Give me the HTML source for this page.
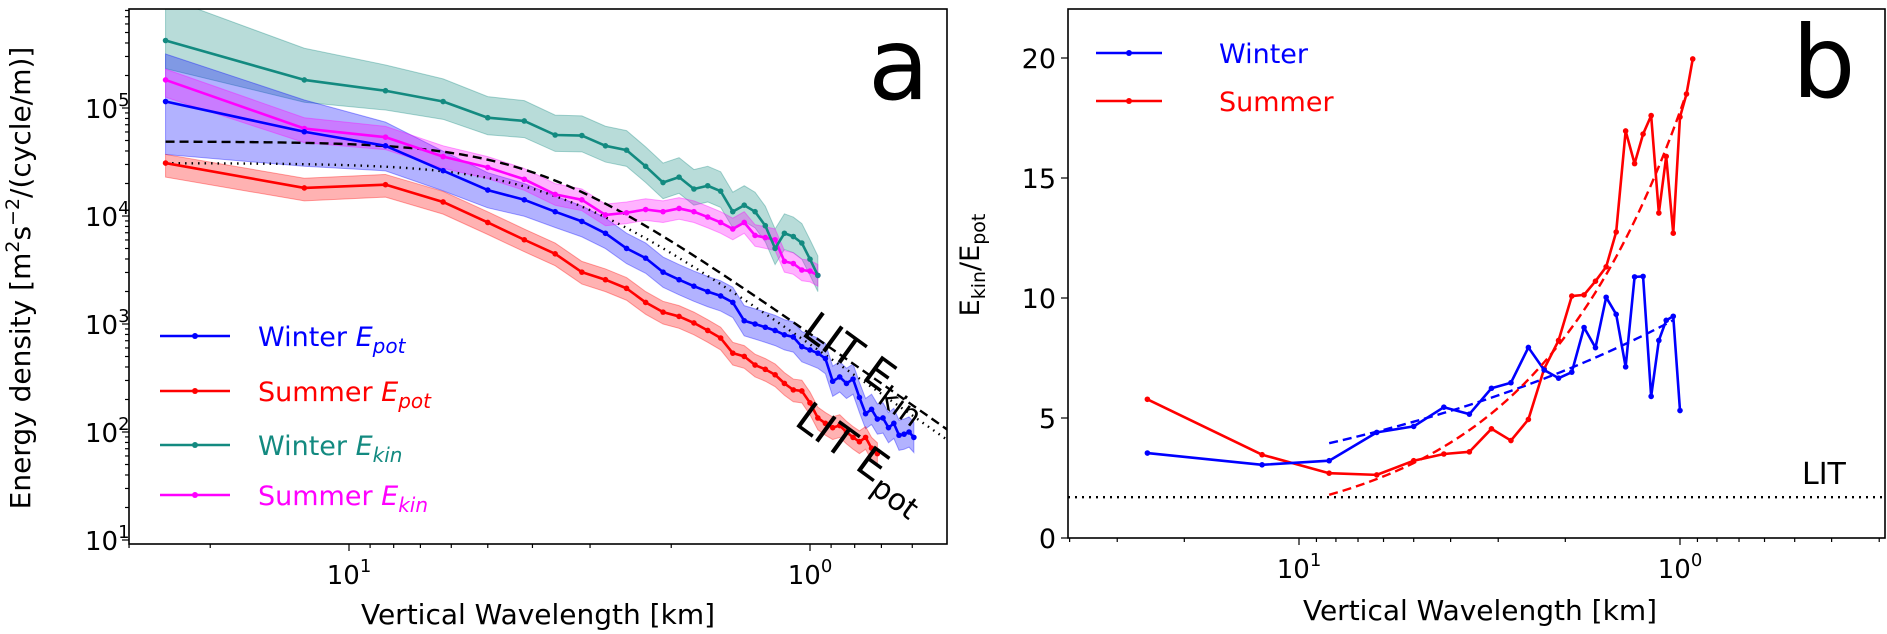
<!DOCTYPE html>
<html><head><meta charset="utf-8"><style>
html,body{margin:0;padding:0;background:#fff}
svg{display:block;font-family:"DejaVu Sans","Liberation Sans",sans-serif}
</style></head><body>
<svg id="fig" width="1887" height="634" viewBox="0 0 1887 634" xmlns="http://www.w3.org/2000/svg">
<defs>
<clipPath id="clipA"><rect x="129" y="9" width="818" height="535"/></clipPath>
<clipPath id="clipB"><rect x="1068" y="9" width="817" height="529"/></clipPath>
</defs>
<g id="panelA"></g>
<g id="panelB"></g>
</svg>
<script>
// ---------- DATA ----------
// wavelengths are 25/k km for k = 1..N
const baseWavelength = 25;
// Panel a: log10 energy density values
const winterEpotLog = [5.06,4.78,4.65,4.42,4.24,4.15,4.04,3.95,3.84,3.70,3.61,3.48,3.41,3.35,3.30,3.26,3.20,3.03,3.00,2.97,2.94,2.90,2.88,2.79,2.76,2.73,2.68,2.47,2.51,2.45,2.49,2.32,2.17,2.21,2.12,2.13,2.04,2.08,1.97,1.98,2.00,1.95];
const summerEpotLog = [4.49,4.26,4.29,4.13,3.94,3.78,3.65,3.48,3.41,3.33,3.20,3.11,3.07,3.01,2.94,2.87,2.73,2.70,2.62,2.58,2.53,2.45,2.39,2.38,2.27,2.13,2.08,2.04,2.06,2.00,1.95,1.91,1.95,1.85,1.80];
const winterEkinLog = [5.625,5.26,5.16,5.06,4.91,4.88,4.75,4.745,4.65,4.61,4.46,4.31,4.36,4.25,4.28,4.23,4.04,4.10,4.04,3.91,3.70,3.84,3.81,3.75,3.60,3.45];
const summerEkinLog = [5.26,4.81,4.73,4.55,4.45,4.34,4.20,4.15,4.01,4.03,4.06,4.04,4.07,4.04,3.99,3.94,3.88,3.94,3.82,3.80,3.78,3.58,3.56,3.50,3.49,3.45];
// band half-widths (decades): [first-point up, first-point down, later up, later down]
const winterEpotBand = [0.44,0.49,0.14,0.14];
const summerEpotBand = [0.08,0.13,0.10,0.11];
const winterEkinBand = [0.40,0.26,0.18,0.15];
const summerEkinBand = [0.10,0.16,0.10,0.10];
// LIT model curves: [plateau log10, corner wavelength km, slope]
const litEkin = [4.69,3.9,3];
const litEpot = [4.49,3.6,3];
// Panel b: Ekin/Epot ratios
const winterRatio = [3.54,3.05,3.22,4.40,4.65,5.45,5.16,6.24,6.47,7.94,7.00,6.66,6.91,8.77,7.93,10.03,9.32,7.13,10.88,10.90,5.90,8.23,9.07,9.24,5.31];
const summerRatio = [5.78,3.47,2.70,2.63,3.22,3.50,3.59,4.55,4.06,4.94,7.05,8.23,10.08,10.13,10.70,11.30,12.75,16.96,15.60,16.83,17.60,13.54,15.90,12.70,17.54,18.50,19.96];
// power-law fits: [amplitude at 8.33 km, exponent, start k, end k]
const winterFit = [3.95,0.40,3,24];
const summerFit = [1.80,1.08,3,26];
const litRatio = [1.7];
const yTicksB = [0,5,10,15,20];

// ---------- HELPERS ----------
const NS="http://www.w3.org/2000/svg";
function mk(parent,tag,attrs,text){const e=document.createElementNS(NS,tag);for(const k in attrs)e.setAttribute(k,attrs[k]);if(text!==undefined)e.textContent=text;parent.appendChild(e);return e;}
const L=Math.log10;
const A=document.getElementById('panelA'), B=document.getElementById('panelB');
const xA=l=>810-461*L(l), yA=lv=>540-(lv-1)*108;
const xB=l=>1680-381*L(l), yB=v=>538-v*24;
const lam=k=>baseWavelength/k;

// ---------- PANEL A ----------
const gA=mk(A,'g',{'clip-path':'url(#clipA)'});


function band(g,vals,bd,color,name){
  const up=[],dn=[];
  vals.forEach((v,i)=>{const f=Math.exp(-i/1.5);const u=bd[2]+(bd[0]-bd[2])*f, d=bd[3]+(bd[1]-bd[3])*f;const x=xA(lam(i+1));up.push(x+','+yA(v+u));dn.unshift(x+','+yA(v-d));});
  const p=mk(g,'polygon',{points:up.concat(dn).join(' '),fill:color,'fill-opacity':0.3,stroke:color,'stroke-opacity':0.35,'stroke-width':1});
  
  
}
function series(g,vals,color,name,xf,yf){
  const pts=vals.map((v,i)=>xf(lam(i+1))+','+yf(v)).join(' ');
  const pl=mk(g,'polyline',{points:pts,fill:'none',stroke:color,'stroke-width':2.6,'stroke-linejoin':'round'});
  
  
  vals.forEach((v,i)=>{const c=mk(g,'circle',{cx:xf(lam(i+1)),cy:yf(v),r:2.8,fill:color});
    
    });
}
band(gA,winterEkinLog,winterEkinBand,'#138a80','winter-ekin');
band(gA,winterEpotLog,winterEpotBand,'#0000ff','winter-epot');
band(gA,summerEkinLog,summerEkinBand,'#ff00ff','summer-ekin');
band(gA,summerEpotLog,summerEpotBand,'#ff0000','summer-epot');
function litCurve(g,p,dash,name){
  const pts=[];for(let lv=L(25);lv>=L(0.45);lv-=0.01){const l=Math.pow(10,lv);pts.push(xA(l)+','+yA(p[0]-L(1+Math.pow(p[1]/l,p[2]))));}
  const pl=mk(g,'polyline',{points:pts.join(' '),fill:'none',stroke:'#000','stroke-width':2.4,'stroke-dasharray':dash});
  
  
}
litCurve(gA,litEkin,'9,5','lit-ekin-curve');
litCurve(gA,litEpot,'1.5,5','lit-epot-curve');
series(gA,summerEpotLog,'#ff0000','summer-epot',xA,yA);
series(gA,summerEkinLog,'#ff00ff','summer-ekin',xA,yA);
series(gA,winterEpotLog,'#0000ff','winter-epot',xA,yA);
series(gA,winterEkinLog,'#138a80','winter-ekin',xA,yA);
// LIT labels
const t1=mk(A,'text',{x:0,y:0,'font-size':42,transform:'translate(800,334) rotate(36)'});
t1.innerHTML='LIT E<tspan font-size="30" dy="10">kin</tspan>';


const t2=mk(A,'text',{x:0,y:0,'font-size':42,transform:'translate(793,424) rotate(36)'});
t2.innerHTML='LIT E<tspan font-size="30" dy="10">pot</tspan>';


// frame
const fa=mk(A,'rect',{x:129,y:9,width:818,height:535,fill:'none',stroke:'#000','stroke-width':1.6});


// x ticks (log)
function xTicks(P,xf,x0,x1,yb,lo,hi){
  for(let e=lo;e<=hi;e++)for(let m=1;m<10;m++){const v=m*Math.pow(10,e);const x=xf(v);if(x<x0-0.5||x>x1+0.5)continue;
    const tk=mk(P,'line',{x1:x,x2:x,y1:yb,y2:yb+(m===1?7:4),stroke:'#000','stroke-width':1.2});
    
    
    if(m===1){const t=mk(P,'text',{x:x,y:yb+40,'font-size':26,'text-anchor':'middle'});t.innerHTML='10<tspan font-size="18" dy="-12">'+e+'</tspan>';
      
      }}
}
xTicks(A,xA,129,947,544,-1,1);
// y ticks (log)
for(let e=1;e<=5;e++)for(let m=1;m<10;m++){const lv=e+L(m);const y=yA(lv);if(y<9||y>544)continue;
  const tk=mk(A,'line',{x1:129,x2:129-(m===1?7:4),y1:y,y2:y,stroke:'#000','stroke-width':1.2});
  
  
  if(m===1){const t=mk(A,'text',{x:85,y:y+10,'font-size':26});t.innerHTML='10<tspan font-size="18" dy="-12">'+e+'</tspan>';
    
    }}
const xla=mk(A,'text',{x:538,y:624,'font-size':28,'text-anchor':'middle'},'Vertical Wavelength [km]');


const yla=mk(A,'text',{x:0,y:0,'font-size':28,'text-anchor':'middle',transform:'translate(30,278) rotate(-90)'});
yla.innerHTML='Energy density [m<tspan font-size="19" dy="-11">2</tspan><tspan dy="11">s</tspan><tspan font-size="19" dy="-11">−2</tspan><tspan dy="11">/(cycle/m)]</tspan>';


const pa=mk(A,'text',{x:868,y:99,'font-size':100},'a');


// legend a
const legA=[['Winter ','pot','#0000ff',336],['Summer ','pot','#ff0000',391],['Winter ','kin','#138a80',445],['Summer ','kin','#ff00ff',495]];
legA.forEach(r=>{const g=mk(A,'g',{});
  
  
  mk(g,'line',{x1:160,x2:230,y1:r[3],y2:r[3],stroke:r[2],'stroke-width':2.6});
  mk(g,'circle',{cx:195,cy:r[3],r:3,fill:r[2]});
  const t=mk(g,'text',{x:258,y:r[3]+10,'font-size':27,fill:r[2]});
  t.innerHTML=r[0]+'<tspan font-style="italic">E</tspan><tspan font-style="italic" font-size="20" dy="7">'+r[1]+'</tspan>';});

// ---------- PANEL B ----------
const gB=mk(B,'g',{'clip-path':'url(#clipB)'});


const lit=mk(gB,'line',{x1:1068,x2:1885,y1:yB(litRatio[0]),y2:yB(litRatio[0]),stroke:'#000','stroke-width':2.4,'stroke-dasharray':'2,5'});


series(gB,summerRatio,'#ff0000','summer-ratio',xB,yB);
series(gB,winterRatio,'#0000ff','winter-ratio',xB,yB);
function fit(g,p,color,name){const pts=[];for(let k=p[2];k<=p[3];k+=0.25){const l=lam(k);pts.push(xB(l)+','+yB(p[0]*Math.pow(8.333/l,p[1])));}
  const pl=mk(g,'polyline',{points:pts.join(' '),fill:'none',stroke:color,'stroke-width':2.4,'stroke-dasharray':'9,5'});
  
  }
fit(gB,winterFit,'#0000ff','winter-fit');
fit(gB,summerFit,'#ff0000','summer-fit');
const fb=mk(B,'rect',{x:1068,y:9,width:817,height:529,fill:'none',stroke:'#000','stroke-width':1.6});


xTicks(B,xB,1068,1885,538,-1,1);
yTicksB.forEach(v=>{const y=yB(v);
  const tk=mk(B,'line',{x1:1068,x2:1061,y1:y,y2:y,stroke:'#000','stroke-width':1.2});
  
  
  const t=mk(B,'text',{x:1056,y:y+10,'font-size':27,'text-anchor':'end'},String(v));
  
  });
const xlb=mk(B,'text',{x:1480,y:620,'font-size':28,'text-anchor':'middle'},'Vertical Wavelength [km]');


const ylb=mk(B,'text',{x:0,y:0,'font-size':27,'text-anchor':'middle',transform:'translate(979,265) rotate(-90)'});
ylb.innerHTML='E<tspan font-size="19" dy="6">kin</tspan><tspan dy="-6">/E</tspan><tspan font-size="19" dy="6">pot</tspan>';


const pb=mk(B,'text',{x:1792,y:97,'font-size':100},'b');


const lt=mk(B,'text',{x:1802,y:484,'font-size':30},'LIT');


[['Winter','#0000ff',53],['Summer','#ff0000',101]].forEach(r=>{const g=mk(B,'g',{});
  
  
  mk(g,'line',{x1:1096,x2:1162,y1:r[2],y2:r[2],stroke:r[1],'stroke-width':2.6});
  mk(g,'circle',{cx:1129,cy:r[2],r:3,fill:r[1]});
  mk(g,'text',{x:1219,y:r[2]+10,'font-size':27,fill:r[1]},r[0]);});
</script>
</body></html>
